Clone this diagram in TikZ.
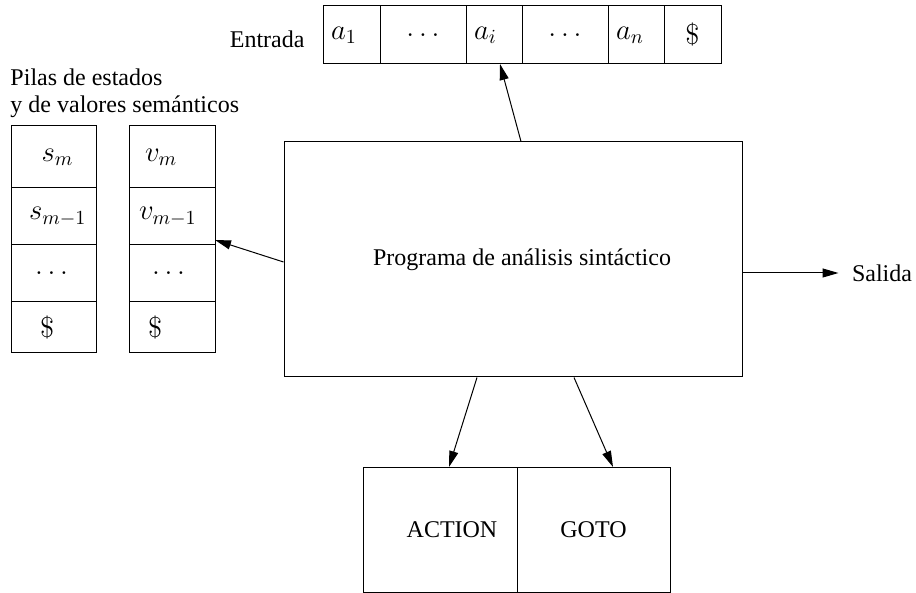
\documentclass[tikz,border=0pt]{standalone}
\usepackage{fontspec}
\setmainfont{Liberation Serif}
\usetikzlibrary{positioning,arrows.meta}

\begin{document}
\begin{tikzpicture}[x=0.5pt,y=-0.5pt,line width=0.5pt,font=\fontsize{12}{13.5}\selectfont,
    >={Triangle[length=8pt,width=4.5pt]},
    cell/.style={draw,outer sep=0pt,inner xsep=4pt,minimum height=29pt,text width=#1,align=center,font=\fontsize{14.4}{17}\selectfont},
    slot/.style={draw,outer sep=0pt,inner xsep=5pt,text width=32.5pt,minimum height=#1,font=\fontsize{14.4}{17}\selectfont}]
    \useasboundingbox (0,0) rectangle (916,593);
    % cinta de entrada
    \node [cell=20.5pt,align=left] (a1) at (351.5,35) {$a_1$};
    \node [cell=35pt] (d1) [right=0pt of a1] {$\ldots$};
    \node [cell=20pt,align=left] (ai) [right=0pt of d1] {$a_i$};
    \node [cell=35pt] (d2) [right=0pt of ai] {$\ldots$};
    \node [cell=20pt,align=left] (an) [right=0pt of d2] {$a_n$};
    \node [cell=20.5pt] (fin) [right=0pt of an] {$\$$};
    \node [inner sep=0pt,left=9pt of a1,yshift=-2pt] (entrada) {Entrada};
    % pilas
    \node [inner sep=0pt,align=left,anchor=west] (titulo) at (10,93) {Pilas de estados\\y de valores sem\'anticos};
    \node [slot=31pt,align=center] (sm) at (53.5,157) {\hspace*{4pt}$s_m$};
    \node [slot=28.5pt,align=center] (sm1) [below=0pt of sm] {\hspace*{4pt}$s_{m-1}$};
    \node [slot=28.5pt,align=left] (sdots) [below=0pt of sm1] {\hspace*{7pt}$\ldots$};
    \node [slot=25.5pt,align=left] (sfondo) [below=0pt of sdots] {\hspace*{9.5pt}$\$$};
    \node [slot=31pt,text width=33pt,align=left] (vm) at (172,157) {\hspace*{3pt}$v_m$};
    \node [slot=28.5pt,text width=33pt,align=left] (vm1) [below=0pt of vm] {$v_{m-1}$};
    \node [slot=28.5pt,text width=33pt,align=left] (vdots) [below=0pt of vm1] {\hspace*{6.5pt}$\ldots$};
    \node [slot=25.5pt,text width=33pt,align=left] (vfondo) [below=0pt of vdots] {\hspace*{4.5pt}$\$$};
    % programa
    \node [draw,minimum width=229pt,minimum height=117.5pt] (prog) at (513,259.5) {\hspace*{9pt}\raisebox{-2.5pt}{Programa de an\'alisis sint\'actico}};
    \node [inner sep=0pt] (salida) at (882,273) {Salida};
    % tabla
    \node [draw,outer sep=0pt,minimum width=77pt,minimum height=62.5pt] (action) at (440,529.5) {\quad ACTION};
    \node [draw,outer sep=0pt,minimum width=76.5pt,minimum height=62.5pt] (goto) [right=0pt of action] {GOTO};
    \draw [->] ([xshift=4pt]prog.north) -- ([xshift=3pt]ai.south);
    \draw [->] ([yshift=-1.25pt]prog.west) -- ([yshift=2.5pt]vm1.south east);
    \draw [->] (prog.east |- salida) -- ([xshift=-6.5pt]salida.west);
    \draw [->] ([xshift=-18pt]prog.south) -- ([xshift=4.5pt]action.north);
    \draw [->] ([xshift=30.5pt]prog.south) -- ([xshift=9.75pt]goto.north);
\end{tikzpicture}
\end{document}
